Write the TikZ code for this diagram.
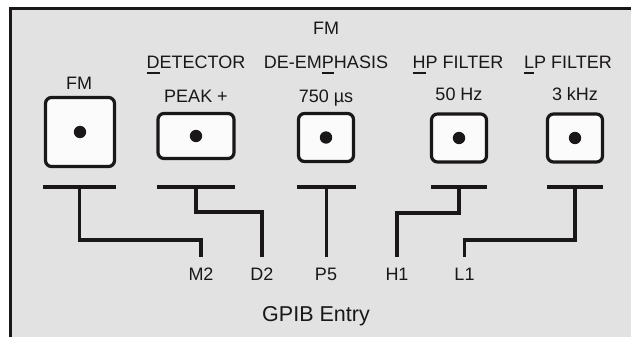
\documentclass[tikz,border=0pt]{standalone}
\usepackage{fontspec}
\setmainfont{Liberation Sans}
\usepackage{tikz}
\usetikzlibrary{positioning,calc}
\definecolor{panelgray}{HTML}{E1E2E1}
\definecolor{inkblack}{HTML}{1A1718}
\definecolor{keywhite}{HTML}{FBFBFB}
\newcommand\ulchar[1]{\setbox0\hbox{#1}\rlap{\rule[-5.5pt]{\wd0}{1.3pt}}\box0}
\tikzset{
  keybox/.style={
    rectangle, rounded corners=6pt, draw=inkblack, fill=keywhite,
    line width=3.2pt, inner sep=0pt
  },
  busbar/.style={
    rectangle, fill=inkblack, minimum height=4pt,
    minimum width=#1, inner sep=0pt
  },
  busbar/.default=56pt,
  wire/.style={draw=inkblack, line width=3.6pt},
  captext/.style={
    anchor=base, inner sep=0pt, text=inkblack,
    font=\fontsize{18}{20}\selectfont
  },
  pinlabel/.style={
    anchor=north, inner xsep=0pt, inner ysep=11pt, text=inkblack,
    font=\fontsize{18}{20}\selectfont
  },
}

\begin{document}
\begin{tikzpicture}[x=1pt, y=-1pt]
  \useasboundingbox (0,0) rectangle (631,337);
  % panel
  \fill[panelgray] (10,9) rectangle (631,337);
  \draw[inkblack, line width=2.5pt] (10.5,337) -- (10.5,8.5) -- (631,8.5);

  % keys
  \node[keybox, minimum width=69, minimum height=69] (fmkey) at (80,132) {};
  \node[keybox, minimum width=76, minimum height=45] (detkey) at (196,136) {};
  \node[keybox, minimum width=55, minimum height=48] (demkey) at (326,137.5) {};
  \node[keybox, minimum width=55, minimum height=48] (hpkey) at (459,138) {};
  \node[keybox, minimum width=55, minimum height=48] (lpkey) at (575,138) {};
  \foreach \k in {fmkey,detkey,demkey,hpkey,lpkey}
    \fill[inkblack] (\k.center) circle[radius=6.2pt];

  % captions
  \node[captext] (fmcap) at (79,89) {FM};
  \node[captext] (detcap) at (196,68) {\ulchar{D}ETECTOR};
  \node[captext] (detval) at (196,102) {PEAK +};
  \node[captext] (demtop) at (326,35) {FM};
  \node[captext] (demcap) at (326,68) {DE-EM\ulchar{P}HASIS};
  \node[captext] (demval) at (326,102) {750 µs};
  \node[captext] (hpcap) at (458,68) {\ulchar{H}P FILTER};
  \node[captext] (hpval) at (459,100) {50 Hz};
  \node[captext] (lpcap) at (568,68) {\ulchar{L}P FILTER};
  \node[captext] (lpval) at (575,100) {3 kHz};

  % bus bars
  \node[busbar=73] (fmbar) at (79.5,187) {};
  \node[busbar=78] (detbar) at (196,187) {};
  \node[busbar=59] (dembar) at (326.5,187) {};
  \node[busbar] (hpbar) at (459,187) {};
  \node[busbar] (lpbar) at (575,187) {};

  % gpib pins
  \node[pinlabel] (m2) at (201,257) {M2};
  \node[pinlabel] (d2) at (262,257) {D2};
  \node[pinlabel] (p5) at (326,257) {P5};
  \node[pinlabel] (h1) at (397,257) {H1};
  \node[pinlabel] (l1) at (464.5,257) {L1};
  \node[captext, font=\fontsize{21.5}{24}\selectfont] (gpib) at (316,321.5) {GPIB Entry};

  \draw[wire] (fmbar.center) -- ++(0,53) -| (m2.north);
  \draw[wire] (detbar.center) -- ++(0,25) -| (d2.north);
  \draw[wire] (dembar.center) -- (dembar.center |- p5.north);
  \draw[wire] (hpbar.center) -- ++(0,26) -| (h1.north);
  \draw[wire] (lpbar.center) -- ++(0,53) -| (l1.north);
\end{tikzpicture}
\end{document}
